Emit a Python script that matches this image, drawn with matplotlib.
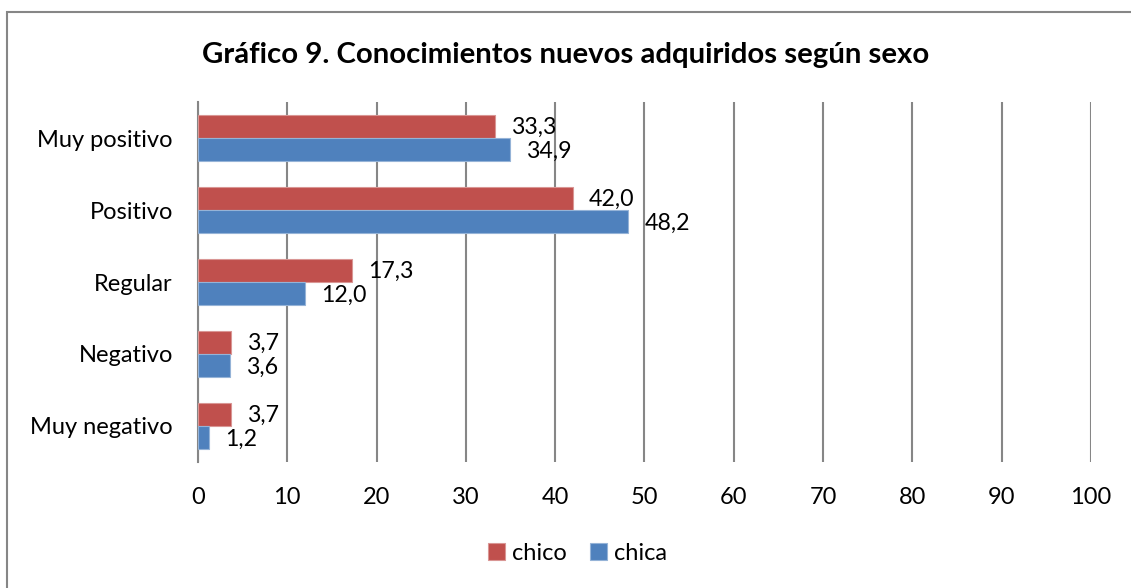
import matplotlib.pyplot as plt
import numpy as np
from matplotlib.patches import Rectangle

# Datos del gráfico
categorias = ["Muy positivo", "Positivo", "Regular", "Negativo", "Muy negativo"]
chico = [33.3, 42.0, 17.3, 3.7, 3.7]
chica = [34.9, 48.2, 12.0, 3.6, 1.2]
ticks_x = [0, 10, 20, 30, 40, 50, 60, 70, 80, 90, 100]

rojo = "#c0504d"
azul = "#4f81bd"
gris = "#868686"

plt.rcParams['font.family'] = ['Lato', 'DejaVu Sans']

fig = plt.figure(figsize=(11.31, 5.88), dpi=100)
ax = fig.add_axes([0.175, 0.2143, 0.7895, 0.6122])

# borde del gráfico (solo arriba e izquierda visibles)
fig.patches.append(Rectangle((7 / 1131, -0.1), 1.2, 1 - 12 / 588 + 0.1,
                             transform=fig.transFigure, fill=False,
                             edgecolor=gris, linewidth=1.5))

y = np.arange(len(categorias))
alto = 0.32
b1 = ax.barh(y - 0.165, chico, height=alto, color=rojo, edgecolor="#d99694",
             linewidth=0.8, label="chico", zorder=3)
b2 = ax.barh(y + 0.165, chica, height=alto, color=azul, edgecolor="#95b3d7",
             linewidth=0.8, label="chica", zorder=3)

for barras, vals in [(b1, chico), (b2, chica)]:
    for barra, v in zip(barras, vals):
        ax.text(v + 1.8, barra.get_y() + barra.get_height() / 2 + 0.02,
                f"{v:.1f}".replace(".", ","), va="center", ha="left",
                fontsize=16.7, color="black")

ax.set_xlim(0, 100)
ax.set_ylim(len(categorias) - 0.5, -0.5)
ax.set_xticks(ticks_x)
ax.set_yticks(y)
ax.set_yticklabels(categorias)
ax.tick_params(axis="both", length=0, labelsize=17, colors="black")
ax.tick_params(axis="x", pad=18)
ax.tick_params(axis="y", pad=18)
ax.grid(axis="x", color=gris, linewidth=1.5, zorder=0)
for s in ["top", "right", "bottom"]:
    ax.spines[s].set_visible(False)
ax.spines["left"].set_color(gris)
ax.spines["left"].set_linewidth(1.5)

fig.text(0.5, 1 - 55 / 588, "Gráfico 9. Conocimientos nuevos adquiridos según sexo",
         ha="center", va="center", fontsize=21.2, fontweight="bold")

fig.legend(handles=[b1, b2], labels=["chico", "chica"], loc="center",
           bbox_to_anchor=(0.5 + 12 / 1131, 1 - 553 / 588), ncol=2, frameon=False,
           fontsize=17, handlelength=0.7, handleheight=0.7, handletextpad=0.3,
           columnspacing=1.0)

fig.savefig("out.png", dpi=100)
